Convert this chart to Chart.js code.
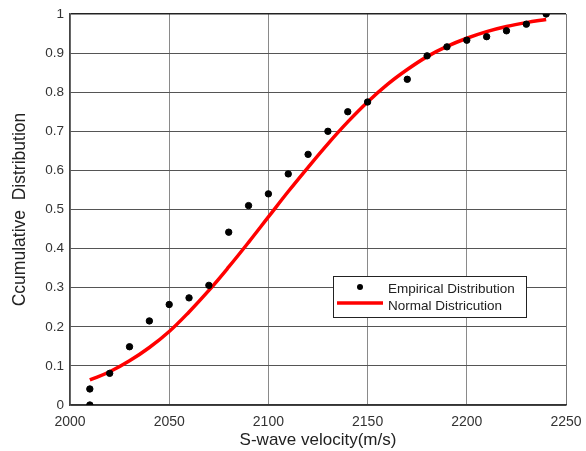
<!DOCTYPE html>
<html>
<head>
<meta charset="utf-8">
<script src="https://cdn.jsdelivr.net/npm/chart.js@4/dist/chart.umd.min.js"></script>
<style>
  html, body { margin: 0; padding: 0; background: #fff; }
  #wrap { width: 586px; height: 451px; }
</style>
</head>
<body>
<div id="wrap"><canvas id="chart" width="586" height="451"></canvas></div>
<script>
// --- DONNÉES ---
const empX = [2010, 2010, 2020, 2030, 2040, 2050, 2060, 2070, 2080, 2090, 2100, 2110,
              2120, 2130, 2140, 2150, 2170, 2180, 2190, 2200, 2210, 2220, 2230, 2240];
const empY = [0, 0.041, 0.081, 0.149, 0.215, 0.257, 0.274, 0.306, 0.442, 0.510, 0.540, 0.591,
              0.641, 0.700, 0.750, 0.775, 0.833, 0.893, 0.916, 0.933, 0.942, 0.957, 0.974, 1.0];

const normX = [2010, 2020, 2030, 2040, 2050, 2060, 2070, 2080, 2090, 2100, 2110, 2120,
               2130, 2140, 2150, 2160, 2170, 2180, 2190, 2200, 2210, 2220, 2230, 2240];
const normY = [0.064, 0.085, 0.113, 0.147, 0.188, 0.238, 0.293, 0.353, 0.416, 0.481, 0.546, 0.608,
               0.668, 0.724, 0.775, 0.820, 0.858, 0.891, 0.917, 0.938, 0.955, 0.968, 0.978, 0.986];

const xTicks = [2000, 2050, 2100, 2150, 2200, 2250];
const yTicks = [0, 0.1, 0.2, 0.3, 0.4, 0.5, 0.6, 0.7, 0.8, 0.9, 1];

const labels = ['Empirical Distribution', 'Normal Districution'];

const FONT = 'Arial, "Liberation Sans", sans-serif';

// --- LÉGENDE DANS LE GRAPHIQUE ---
const boxLegend = {
    id: 'boxLegend',
    afterDraw(chart) {
        const ctx = chart.ctx;
        ctx.save();
        ctx.fillStyle = '#fff';
        ctx.fillRect(333, 276, 193, 41);
        ctx.strokeStyle = '#222';
        ctx.lineWidth = 1;
        ctx.strokeRect(333.5, 276.5, 193, 41);

        ctx.fillStyle = '#000';
        ctx.beginPath();
        ctx.arc(360, 287, 3, 0, Math.PI * 2);
        ctx.fill();

        ctx.strokeStyle = '#ff0000';
        ctx.lineWidth = 3.5;
        ctx.beginPath();
        ctx.moveTo(337, 303);
        ctx.lineTo(383, 303);
        ctx.stroke();

        ctx.fillStyle = '#222';
        ctx.font = '13.5px ' + FONT;
        ctx.textBaseline = 'middle';
        ctx.fillText(labels[0], 388, 289);
        ctx.fillText(labels[1], 388, 306);
        ctx.restore();
    }
};

const ctx = document.getElementById('chart').getContext('2d');
new Chart(ctx, {
    type: 'scatter',
    data: {
        datasets: [
            {
                label: labels[0],
                data: empX.map((x, i) => ({ x: x, y: empY[i] })),
                backgroundColor: '#000',
                borderColor: '#000',
                pointRadius: 3.2,
                pointHoverRadius: 3.2,
                order: 1
            },
            {
                label: labels[1],
                data: normX.map((x, i) => ({ x: x, y: normY[i] })),
                showLine: true,
                borderColor: '#ff0000',
                backgroundColor: '#ff0000',
                borderWidth: 3.5,
                pointRadius: 0,
                tension: 0.4,
                order: 2
            }
        ]
    },
    options: {
        responsive: false,
        animation: false,
        events: [],
        layout: { padding: { left: 0, top: 14, right: 20, bottom: 0 } },
        plugins: { legend: { display: false }, tooltip: { enabled: false } },
        scales: {
            x: {
                type: 'linear',
                min: 2000, max: 2250,
                afterBuildTicks: s => { s.ticks = xTicks.map(v => ({ value: v })); },
                afterFit: s => { s.height = 46; s.paddingLeft = 0; s.paddingRight = 0; },
                grid: {
                    drawTicks: false,
                    color: c => c.tick.value === 2250 ? '#777' : '#8a8a8a',
                    lineWidth: 1
                },
                border: { color: '#333', width: 1.5 },
                ticks: {
                    color: '#333', padding: 9,
                    font: { family: FONT, size: 14 },
                    callback: v => String(v)
                },
                title: {
                    display: true,
                    text: 'S-wave velocity(m/s)',
                    color: '#222',
                    font: { family: FONT, size: 17 },
                    padding: { top: 0, bottom: 0 }
                }
            },
            y: {
                min: 0, max: 1,
                afterBuildTicks: s => { s.ticks = yTicks.map(v => ({ value: v })); },
                afterFit: s => { s.width = 70; s.paddingTop = 0; s.paddingBottom = 0; },
                grid: {
                    drawTicks: false,
                    color: c => c.tick.value === 1 ? '#222' : '#555',
                    lineWidth: c => c.tick.value === 1 ? 1.5 : 1
                },
                border: { color: '#444', width: 1.5 },
                ticks: {
                    color: '#333', padding: 6,
                    font: { family: FONT, size: 13.5 },
                    callback: v => String(+v.toFixed(1))
                },
                title: {
                    display: true,
                    text: 'Ccumulative  Distribution',
                    color: '#222',
                    font: { family: FONT, size: 17.5 },
                    padding: { top: 10, bottom: 0 }
                }
            }
        }
    },
    plugins: [boxLegend]
});
</script>
</body>
</html>
